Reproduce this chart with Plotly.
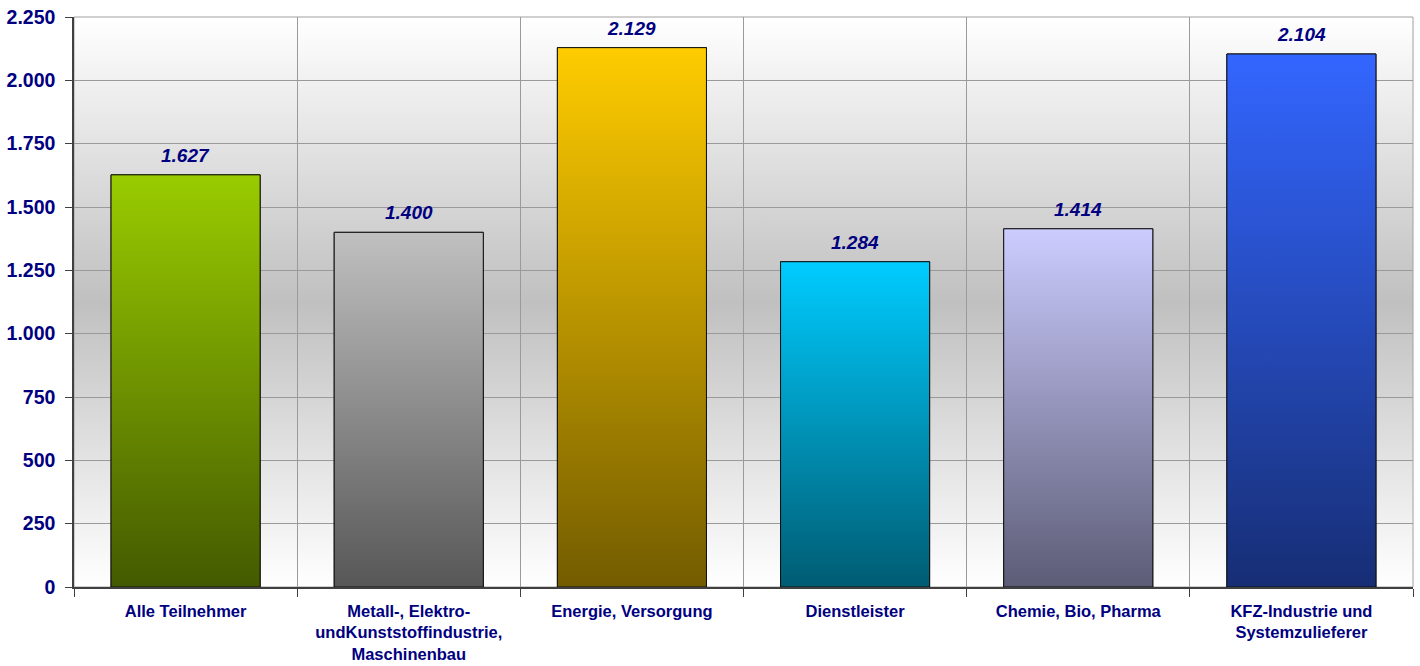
import base64
import plotly.graph_objects as go

categories = [
    "Alle Teilnehmer",
    "Metall-, Elektro-<br>undKunststoffindustrie,<br>Maschinenbau",
    "Energie, Versorgung",
    "Dienstleister",
    "Chemie, Bio, Pharma",
    "KFZ-Industrie und<br>Systemzulieferer",
]
values = [1627, 1400, 2129, 1284, 1414, 2104]
top_colors = ["#99CC00", "#C0C0C0", "#FFCC00", "#00CCFF", "#CCCCFF", "#3366FF"]
bottom_colors = ["#445A00", "#575757", "#735C00", "#005C73", "#5C5C76", "#172E75"]
y_ticks = [0, 250, 500, 750, 1000, 1250, 1500, 1750, 2000, 2250]

NAVY = "#000080"
FONT = "Liberation Sans, Arial, sans-serif"
BAR_W = 0.668

idx = list(range(len(categories)))


def fmt(v):
    return f"{v:,}".replace(",", ".")


fig = go.Figure()

fig.add_trace(go.Bar(
    x=idx, y=values, width=BAR_W,
    marker=dict(color=top_colors, line=dict(color="#101010", width=1)),
    hoverinfo="skip", showlegend=False,
))

for i, v in enumerate(values):
    x0, x1 = i - BAR_W / 2, i + BAR_W / 2
    fig.add_trace(go.Scatter(
        x=[x0, x0, x1, x1, x0], y=[0, v, v, 0, 0],
        mode="lines", fill="toself",
        fillgradient=dict(type="vertical",
                          colorscale=[[0, bottom_colors[i]], [1, top_colors[i]]]),
        line=dict(color="#101010", width=1),
        hoverinfo="skip", showlegend=False,
    ))
    fig.add_annotation(
        x=i, y=v, xref="x", yref="y", yanchor="bottom", yshift=7,
        text=f"<b><i>{fmt(v)}</i></b>", showarrow=False,
        font=dict(family=FONT, size=19, color=NAVY),
    )

svg = ('<svg xmlns="http://www.w3.org/2000/svg" width="100" height="100" '
       'viewBox="0 0 100 100" preserveAspectRatio="none"><defs>'
       '<linearGradient id="g" x1="0" y1="0" x2="0" y2="1">'
       '<stop offset="0" stop-color="#FFFFFF"/>'
       '<stop offset="0.5" stop-color="#C0C0C0"/>'
       '<stop offset="1" stop-color="#FFFFFF"/>'
       '</linearGradient></defs>'
       '<rect width="100" height="100" fill="url(#g)"/></svg>')
bg_src = "data:image/svg+xml;base64," + base64.b64encode(svg.encode()).decode()

fig.update_layout(
    width=1420, height=666,
    margin=dict(l=74, r=7, t=17, b=79),
    paper_bgcolor="white",
    plot_bgcolor="rgba(0,0,0,0)",
    separators=",.",
    hovermode=False,
    font=dict(family=FONT, color=NAVY),
    images=[dict(source=bg_src, xref="paper", yref="paper", x=0, y=1,
                 sizex=1, sizey=1, xanchor="left", yanchor="top",
                 sizing="stretch", layer="below")],
    shapes=[dict(type="rect", xref="paper", yref="paper", x0=0, x1=1, y0=0, y1=1,
                 line=dict(color="#A0A0A0", width=1), layer="below")],
)

fig.update_xaxes(
    range=[-0.5, 5.5], automargin=False,
    tickmode="array", tickvals=idx,
    ticktext=[f"<b>{c}</b>" for c in categories],
    ticks="", showgrid=False, zeroline=False,
    tickfont=dict(family=FONT, size=16.5, color=NAVY),
    ticklabelstandoff=8,
    showline=True, linecolor="#404040", linewidth=2,
    minor=dict(tick0=-0.5, dtick=1, ticks="outside", ticklen=8,
               tickcolor="#404040", showgrid=True, gridcolor="#9A9A9A", gridwidth=1),
)

fig.update_yaxes(
    range=[0, 2250], automargin=False,
    tickmode="array", tickvals=y_ticks,
    ticktext=[f"<b>{fmt(t)}</b>" for t in y_ticks],
    ticks="outside", ticklen=7, tickcolor="#404040",
    tickfont=dict(family=FONT, size=19.5, color=NAVY),
    ticklabelstandoff=6,
    showgrid=True, gridcolor="#9A9A9A", gridwidth=1, zeroline=False,
    showline=True, linecolor="#404040", linewidth=1.5,
)

fig.write_html(
    "out.html",
    config={"displayModeBar": False},
    post_script="document.body.style.margin='0';document.body.style.overflow='hidden';",
)
